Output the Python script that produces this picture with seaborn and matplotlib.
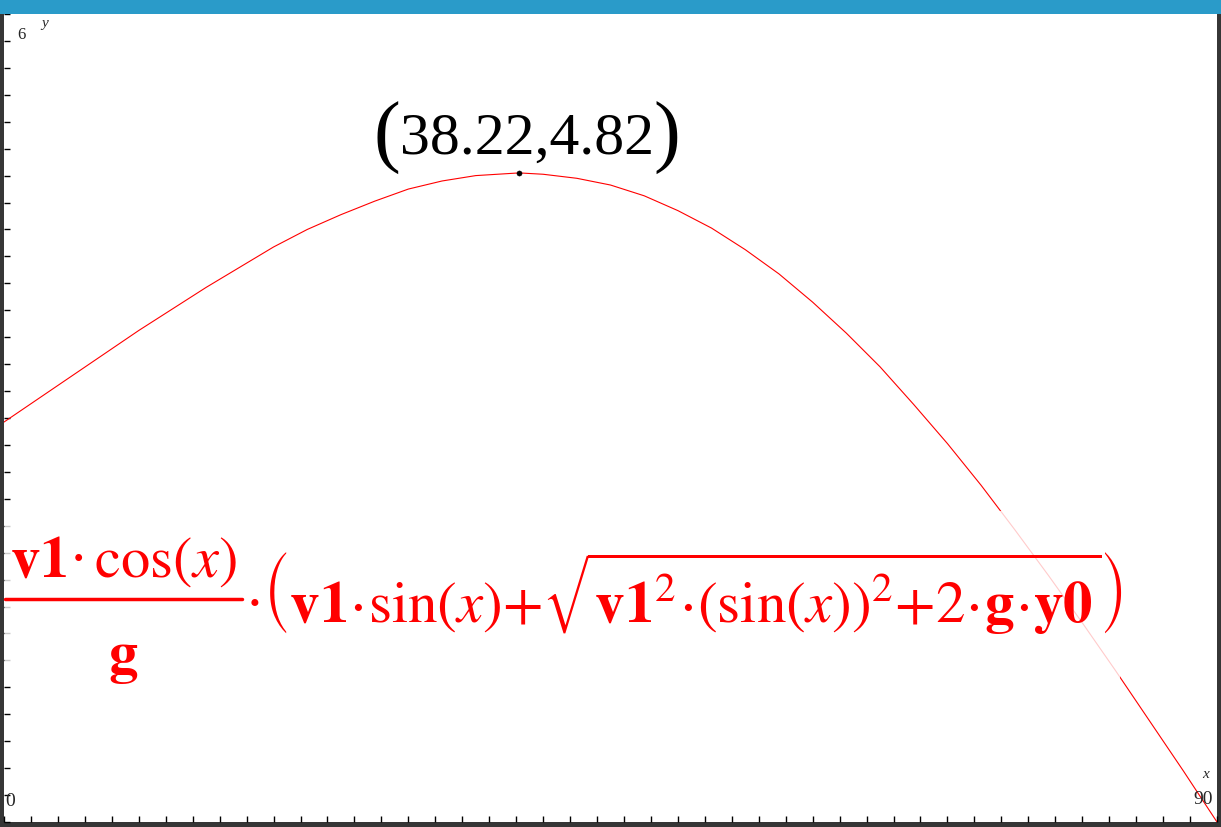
import numpy as np
import pandas as pd
import seaborn as sns
import matplotlib.pyplot as plt
from matplotlib.patches import Rectangle
from matplotlib.lines import Line2D

# launch angle (deg) vs range
angle = [0, 2.5, 5, 7.5, 10, 12.5, 15, 17.5, 20, 22.5, 25, 27.5, 30, 32.5, 35, 38.22,
         40, 42.5, 45, 47.5, 50, 52.5, 55, 57.5, 60, 62.5, 65, 67.5, 70, 72.5, 75,
         77.5, 80, 82.5, 85, 87.5, 90]
dist = [2.97, 3.14, 3.31, 3.48, 3.65, 3.81, 3.97, 4.12, 4.27, 4.40, 4.51, 4.61,
        4.70, 4.76, 4.80, 4.82, 4.81, 4.78, 4.73, 4.65, 4.54, 4.41, 4.25, 4.07,
        3.86, 3.63, 3.38, 3.10, 2.81, 2.50, 2.17, 1.83, 1.48, 1.12, 0.75, 0.38, 0.0]
peak_x = [38.22]
peak_y = [4.82]

df = pd.DataFrame({"angle": angle, "dist": dist})

sns.set_style("white")
plt.rcParams['mathtext.fontset'] = 'stix'
plt.rcParams['font.family'] = ['Liberation Serif', 'DejaVu Serif']

W, H = 1221, 828
fig = plt.figure(figsize=(W / 100, H / 100), dpi=100, facecolor='#363636')
# blue title strip
fig.patches.append(Rectangle((0, 1 - 15 / H), 1, 15 / H, transform=fig.transFigure,
                             facecolor='#2a9bc9', edgecolor='none', zorder=0))

ax = fig.add_axes([4 / W, 5 / H, 1213 / W, 808 / H])
ax.set_facecolor('white')

sns.lineplot(data=df, x="angle", y="dist", ax=ax, color='red', linewidth=0.8,
             sort=False, estimator=None, zorder=1)
sns.scatterplot(x=peak_x, y=peak_y, ax=ax, color='black', s=14, zorder=5,
                edgecolor='black', linewidth=0.3)

ax.set_xlim(0, 90)
ax.set_ylim(0, 6)
ax.set_xticks(np.arange(0, 91, 2))
ax.set_yticks(np.arange(0, 6.01, 0.2))
ax.tick_params(direction='in', length=4, width=1, color='black',
               bottom=True, left=True, labelbottom=False, labelleft=False)
for s in ax.spines.values():
    s.set_visible(False)
ax.set_xlabel("")
ax.set_ylabel("")

# axis end labels
ax.text(0.011, 0.985, "6", transform=ax.transAxes, fontsize=12, va='top', ha='left')
ax.text(0.031, 0.997, "y", transform=ax.transAxes, fontsize=11, va='top', ha='left',
        style='italic')
ax.text(0.001, 0.027, "0", transform=ax.transAxes, fontsize=14, va='center', ha='left')
ax.text(0.997, 0.029, "90", transform=ax.transAxes, fontsize=14, va='center', ha='right')
ax.text(0.993, 0.06, "x", transform=ax.transAxes, fontsize=11, va='center', ha='right',
        style='italic')


def fx(px):
    return px / W


def fy(py):
    return 1 - py / H


# peak label
fig.text(fx(527), fy(140), "38.22,4.82", fontsize=43, ha='center', va='center',
         color='black')
fig.text(fx(387), fy(138), "(", fontsize=58, ha='center', va='center', color='black',
         fontweight='light')
fig.text(fx(667), fy(138), ")", fontsize=58, ha='center', va='center', color='black',
         fontweight='light')

# formula: pale box, fraction, rest
fig.patches.append(Rectangle((fx(5), fy(682)), fx(1120) - fx(5), fy(512) - fy(682),
                             transform=fig.transFigure, facecolor='white',
                             edgecolor='none', alpha=0.8, zorder=1))
red = '#ff0000'
fig.text(fx(123), fy(562), r"$\mathbf{v1}$·$\,\mathrm{cos}(x)$", fontsize=42,
         ha='center', va='center', color=red)
fig.lines.append(Line2D([fx(5), fx(242)], [fy(600), fy(600)], transform=fig.transFigure,
                        color=red, linewidth=2.5))
fig.text(fx(123), fy(660), r"$\mathbf{g}$", fontsize=42, ha='center', va='center',
         color=red)
rest = (r"·$\left(\mathbf{v1}\!\cdot\!\mathrm{sin}(x){+}"
        r"\sqrt{\mathbf{v1}^{2}\!\cdot\!\left(\mathrm{sin}(x)\right)^{2}{+}2\!\cdot\!"
        r"\mathbf{g}\!\cdot\!\mathbf{y0}}\right)$")
fig.text(fx(244), fy(623), rest, fontsize=42.4, ha='left', va='baseline', color=red)

plt.savefig("out.png", dpi=100, facecolor=fig.get_facecolor())
